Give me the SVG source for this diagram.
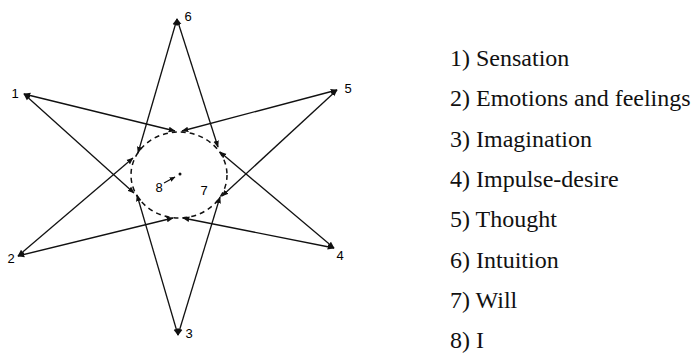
<svg xmlns="http://www.w3.org/2000/svg" width="699" height="361" viewBox="0 0 699 361">
<style>
.ln{stroke:#111;stroke-width:1.3;fill:none;marker-start:url(#ah);marker-end:url(#ah)}
.num{font-family:"Liberation Sans",Arial,sans-serif;font-size:13px;fill:#000}
.leg{font-family:"Liberation Serif","Times New Roman",serif;font-size:24px;fill:#111}
</style>
<defs>
<marker id="ah" viewBox="0 0 10 10" refX="9" refY="5" markerWidth="7" markerHeight="7" markerUnits="userSpaceOnUse" orient="auto-start-reverse">
<path d="M0,1 L10,5 L0,9 Z" fill="#111"/>
</marker>
<marker id="ah2" viewBox="0 0 10 10" refX="9" refY="5" markerWidth="6" markerHeight="6" markerUnits="userSpaceOnUse" orient="auto">
<path d="M0,1 L10,5 L0,9 Z" fill="#111"/>
</marker>
</defs>
<rect width="699" height="361" fill="#fff"/>
<g id="connectors">
<line class="ln" x1="24" y1="94" x2="175" y2="131"/>
<line class="ln" x1="24" y1="94" x2="134" y2="193"/>
<line class="ln" x1="337" y1="90" x2="182" y2="131"/>
<line class="ln" x1="337" y1="90" x2="222" y2="196"/>
<line class="ln" x1="18" y1="256" x2="133" y2="158"/>
<line class="ln" x1="18" y1="256" x2="173" y2="218"/>
<line class="ln" x1="334" y1="248" x2="220" y2="152"/>
<line class="ln" x1="334" y1="248" x2="183" y2="218"/>
<line class="ln" x1="177" y1="19" x2="138" y2="153"/>
<line class="ln" x1="177" y1="19" x2="218" y2="147"/>
<line class="ln" x1="178" y1="335" x2="137" y2="195"/>
<line class="ln" x1="178" y1="335" x2="220" y2="197"/>
<ellipse cx="179" cy="175" rx="48" ry="43" fill="none" stroke="#111" stroke-width="1.5" stroke-dasharray="5 4"/>
<line x1="164" y1="183" x2="175" y2="177" stroke="#111" stroke-width="1.3" marker-end="url(#ah2)"/>
<circle cx="180" cy="174" r="1.5" fill="#111"/>
</g>
<g id="n1"><text class="num" x="15" y="98" text-anchor="middle">1</text></g>
<g id="n2"><text class="num" x="11" y="263" text-anchor="middle">2</text></g>
<g id="n3"><text class="num" x="189" y="338" text-anchor="middle">3</text></g>
<g id="n4"><text class="num" x="340" y="260" text-anchor="middle">4</text></g>
<g id="n5"><text class="num" x="348" y="93" text-anchor="middle">5</text></g>
<g id="n6"><text class="num" x="188" y="21" text-anchor="middle">6</text></g>
<g id="n7"><text class="num" x="204" y="195" text-anchor="middle">7</text></g>
<g id="n8"><text class="num" x="159" y="192" text-anchor="middle">8</text></g>
<g id="legend">
<text class="leg" x="450" y="66">1) Sensation</text>
<text class="leg" x="450" y="106.3">2) Emotions and feelings</text>
<text class="leg" x="450" y="146.6">3) Imagination</text>
<text class="leg" x="450" y="186.9">4) Impulse-desire</text>
<text class="leg" x="450" y="227.2">5) Thought</text>
<text class="leg" x="450" y="267.5">6) Intuition</text>
<text class="leg" x="450" y="307.8">7) Will</text>
<text class="leg" x="450" y="348">8) I</text>
</g>
</svg>
